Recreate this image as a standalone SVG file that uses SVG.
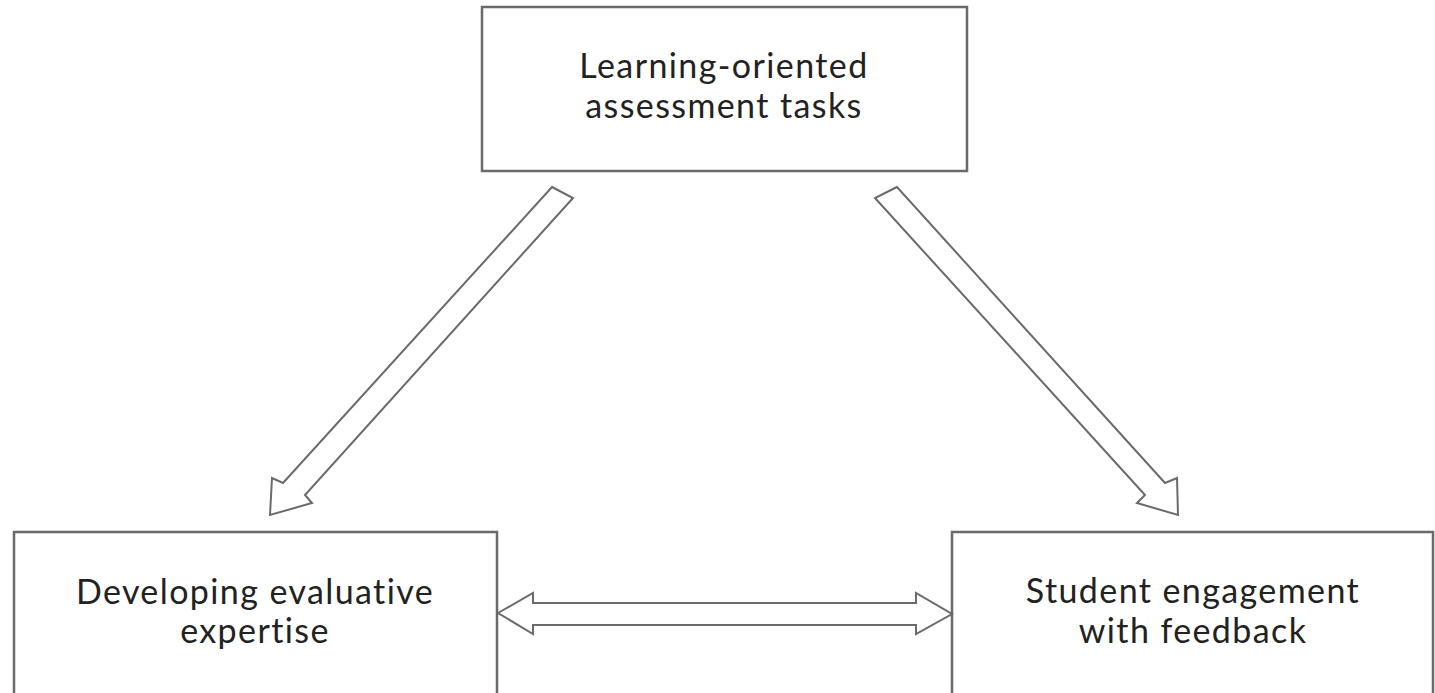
<svg xmlns="http://www.w3.org/2000/svg" width="1435" height="693" viewBox="0 0 1435 693">
<style>
.box{fill:#fff;stroke:#6a6a6a;stroke-width:2.5}
.arrow{fill:#fff;stroke:#6a6a6a;stroke-width:2;stroke-linejoin:miter}
.lbl{font-family:Lato,"Open Sans","Liberation Sans",sans-serif;font-size:34px;letter-spacing:1.4px;fill:#222;text-anchor:middle}
</style>
<rect x="0" y="0" width="1435" height="693" fill="#fff"/>
<g id="node-top">
<rect class="box" x="482" y="7" width="485" height="164"/>
<text class="lbl" x="724" y="78">Learning-oriented</text>
<text class="lbl" x="724" y="118">assessment tasks</text>
</g>
<g id="node-left">
<rect class="box" x="14" y="532" width="483" height="200"/>
<text class="lbl" x="255" y="604">Developing evaluative</text>
<text class="lbl" x="255" y="643">expertise</text>
</g>
<g id="node-right">
<rect class="box" x="952" y="532" width="481" height="200"/>
<text class="lbl" x="1193" y="603">Student engagement</text>
<text class="lbl" x="1193" y="643">with feedback</text>
</g>
<g id="connectors">
<polygon class="arrow" points="552,187 573,198 305,495 312,503 270,515 272,478 283,483"/>
<polygon class="arrow" points="897,187 875,198 1145,495 1137,503 1178,515 1177,478 1165,483"/>
<polygon class="arrow" points="498,613 533,593 533,603 916,603 916,593 952,614 916,634 916,625 533,625 533,634"/>
</g>
</svg>
